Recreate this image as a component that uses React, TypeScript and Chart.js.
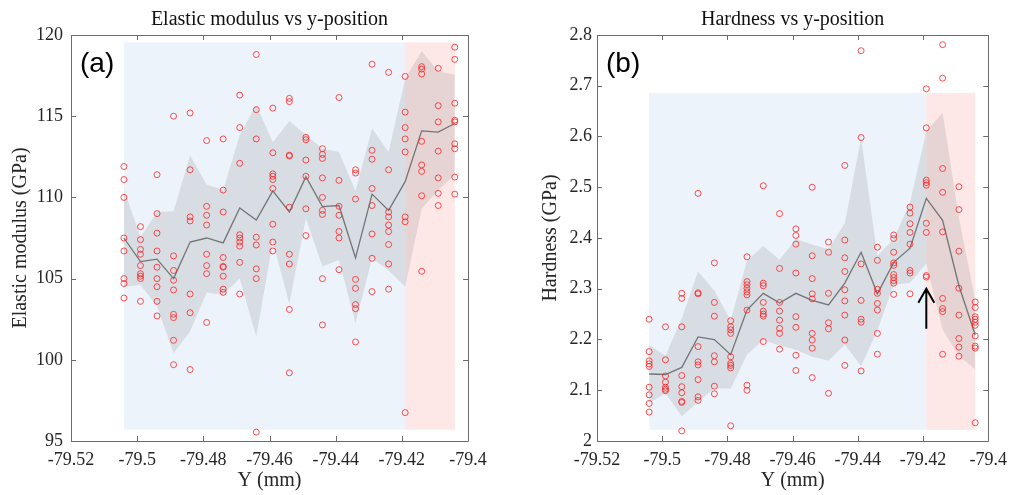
import { useEffect, useRef } from 'react';
import { Chart, registerables } from 'chart.js';

Chart.register(...registerables);

// ---------- data ----------
const POSITIONS = [
  -79.504, -79.499, -79.494, -79.489, -79.484, -79.479, -79.474, -79.469, -79.464, -79.459, -79.454,
  -79.449, -79.444, -79.439, -79.434, -79.429, -79.424, -79.419, -79.414, -79.409, -79.404,
];

const X_TICKS = [-79.52, -79.5, -79.48, -79.46, -79.44, -79.42, -79.4];
const X_TICK_LABELS = ['-79.52', '-79.5', '-79.48', '-79.46', '-79.44', '-79.42', '-79.4'];

const E_TICKS = [95, 100, 105, 110, 115, 120];
const E_TICK_LABELS = ['95', '100', '105', '110', '115', '120'];
const H_TICKS = [2, 2.1, 2.2, 2.3, 2.4, 2.5, 2.6, 2.7, 2.8];
const H_TICK_LABELS = ['2', '2.1', '2.2', '2.3', '2.4', '2.5', '2.6', '2.7', '2.8'];

// region bounds: [blue start, split, red end] in Y (mm)
const REGION_X = [-79.504, -79.419, -79.404];
const E_REGION_Y = [95.7, 119.55];
const H_REGION_Y = [2.022, 2.686];

// Elastic modulus measurements (GPa), one row per position
const E_POINTS = [
  [111.9, 111.1, 110.0, 107.5, 106.7, 105.0, 104.7, 103.8],
  [108.2, 107.4, 106.8, 106.5, 105.8, 105.3, 105.15, 105.0, 103.6],
  [111.4, 109.0, 107.8, 106.7, 105.7, 105.0, 104.5, 103.6, 102.7],
  [115.0, 106.4, 105.5, 104.9, 104.3, 102.8, 102.6, 101.2, 99.7],
  [115.2, 111.7, 108.8, 108.55, 104.05, 102.9, 99.4],
  [113.5, 109.45, 108.9, 108.3, 106.5, 105.8, 105.3, 102.3],
  [113.6, 110.45, 109.1, 106.3, 105.75, 105.7, 105.15, 104.35, 104.15],
  [116.3, 114.3, 112.1, 107.7, 107.5, 107.25, 107.0, 106.0, 104.05],
  [118.8, 115.4, 113.6, 107.55, 107.07, 105.6, 105.0, 95.55],
  [115.5, 112.75, 111.45, 111.3, 111.1, 110.55, 108.35, 107.25, 106.7],
  [116.1, 115.9, 112.6, 112.55, 109.4, 106.5, 105.9, 103.1, 99.2],
  [113.7, 113.55, 112.3, 111.3, 109.3, 107.65],
  [113.0, 112.65, 112.4, 111.2, 110.0, 109.2, 108.95, 105.0, 102.15],
  [116.15, 111.05, 109.45, 108.9, 107.9, 107.5, 105.55],
  [111.7, 111.5, 109.9, 104.95, 104.4, 103.4, 103.15, 101.1],
  [118.2, 112.9, 112.35, 110.55, 109.5, 107.75, 106.25, 104.2],
  [117.7, 111.7, 109.1, 108.8, 108.3, 107.9, 107.1, 105.9, 104.35],
  [117.45, 115.25, 114.3, 113.6, 112.8, 108.8, 108.5, 96.75],
  [118.05, 117.9, 117.6, 113.45, 112.0, 111.6, 110.1, 105.45],
  [117.95, 115.65, 114.65, 112.85, 111.2, 110.25, 109.5],
  [119.25, 118.5, 115.8, 114.75, 114.65, 113.3, 113.0, 111.25, 110.2],
];
const E_MEAN = [107.5, 106.05, 106.2, 105.0, 107.25, 107.5, 107.2, 109.35, 108.6, 110.4, 109.1, 111.28, 109.43, 109.5, 106.28, 110.2, 109.2, 110.97, 114.1, 114.02, 114.55];
const E_UPPER = [110.5, 107.55, 109.1, 109.15, 112.6, 110.8, 110.45, 113.85, 115.7, 113.4, 114.7, 113.85, 113.0, 112.8, 110.4, 114.25, 112.8, 117.3, 119.0, 117.75, 117.55];
const E_LOWER = [104.5, 104.6, 103.3, 100.4, 101.75, 104.15, 104.0, 105.0, 101.4, 107.3, 103.45, 108.7, 105.75, 106.15, 102.25, 106.25, 105.5, 104.5, 109.3, 110.45, 111.4];

// Hardness measurements (GPa), one row per position
const H_POINTS = [
  [2.240, 2.176, 2.158, 2.152, 2.147, 2.106, 2.091, 2.074, 2.057],
  [2.225, 2.160, 2.128, 2.116, 2.106, 2.102, 2.099],
  [2.291, 2.281, 2.225, 2.129, 2.107, 2.095, 2.078, 2.076, 2.020],
  [2.488, 2.292, 2.290, 2.186, 2.156, 2.150, 2.121, 2.087, 2.080],
  [2.351, 2.273, 2.246, 2.168, 2.156, 2.108, 2.093],
  [2.237, 2.225, 2.219, 2.212, 2.166, 2.153, 2.149, 2.144, 2.030],
  [2.363, 2.314, 2.308, 2.301, 2.294, 2.288, 2.258, 2.110, 2.100],
  [2.503, 2.311, 2.306, 2.273, 2.256, 2.250, 2.246, 2.196],
  [2.448, 2.340, 2.273, 2.256, 2.238, 2.222, 2.212, 2.181],
  [2.418, 2.405, 2.388, 2.331, 2.245, 2.224, 2.169, 2.139],
  [2.500, 2.365, 2.320, 2.290, 2.280, 2.212, 2.199, 2.183, 2.125],
  [2.392, 2.372, 2.291, 2.233, 2.221, 2.094],
  [2.543, 2.396, 2.361, 2.334, 2.298, 2.276, 2.248, 2.199, 2.149],
  [2.769, 2.598, 2.349, 2.277, 2.240, 2.234, 2.138],
  [2.382, 2.356, 2.299, 2.291, 2.271, 2.258, 2.212, 2.171],
  [2.406, 2.399, 2.372, 2.351, 2.346, 2.328, 2.322, 2.316, 2.311, 2.289],
  [2.461, 2.449, 2.428, 2.411, 2.388, 2.336, 2.331, 2.290],
  [2.694, 2.617, 2.514, 2.509, 2.504, 2.429, 2.411, 2.326, 2.323],
  [2.781, 2.715, 2.537, 2.490, 2.412, 2.281, 2.261, 2.255, 2.171],
  [2.501, 2.456, 2.374, 2.301, 2.248, 2.202, 2.185, 2.167],
  [2.274, 2.263, 2.245, 2.240, 2.234, 2.228, 2.207, 2.187, 2.183, 2.036],
];
const H_MEAN = [2.132, 2.131, 2.145, 2.205, 2.200, 2.170, 2.258, 2.291, 2.272, 2.291, 2.277, 2.268, 2.311, 2.372, 2.290, 2.352, 2.380, 2.478, 2.435, 2.306, 2.209];
const H_UPPER = [2.189, 2.168, 2.242, 2.334, 2.296, 2.238, 2.355, 2.384, 2.357, 2.398, 2.387, 2.378, 2.429, 2.597, 2.365, 2.398, 2.470, 2.610, 2.647, 2.440, 2.278];
const H_LOWER = [2.075, 2.094, 2.049, 2.077, 2.104, 2.103, 2.170, 2.199, 2.188, 2.180, 2.166, 2.158, 2.190, 2.148, 2.218, 2.308, 2.312, 2.350, 2.219, 2.168, 2.141];

// arrow in panel (b): x position and y from/to
const ARROW_X = -79.419;
const ARROW_Y = [2.221, 2.300];

// ---------- styles ----------
const SERIF = "'Liberation Serif', 'Times New Roman', serif";
const SANS = "'Liberation Sans', Arial, sans-serif";
const BLUE_BG = 'rgb(236,243,250)';
const RED_BG = 'rgb(253,231,231)';
const BAND = 'rgba(103,103,103,0.15)';
const POINT_RED = 'rgba(255,35,35,0.8)';
const MEAN_COLOR = 'rgba(105,105,105,0.9)';
const AXIS_COLOR = '#6b6b6b';
const TEXT_COLOR = '#262626';

type Panel = {
  title: string;
  yTitle: string;
  yMin: number;
  yMax: number;
  yTicks: number[];
  yTickLabels: string[];
  points: number[][];
  mean: number[];
  upper: number[];
  lower: number[];
  regionY: number[];
  label: string;
  arrow: boolean;
  axisWidth: number;
  rightPad: number;
  yTitlePad: number;
  yTickPad: number;
};

const PANEL_A: Panel = {
  title: 'Elastic modulus vs y-position',
  yTitle: 'Elastic modulus (GPa)',
  yMin: 95,
  yMax: 120,
  yTicks: E_TICKS,
  yTickLabels: E_TICK_LABELS,
  points: E_POINTS,
  mean: E_MEAN,
  upper: E_UPPER,
  lower: E_LOWER,
  regionY: E_REGION_Y,
  label: '(a)',
  arrow: false,
  axisWidth: 71,
  rightPad: 39,
  yTitlePad: 9,
  yTickPad: 8,
};

const PANEL_B: Panel = {
  title: 'Hardness vs y-position',
  yTitle: 'Hardness (GPa)',
  yMin: 2,
  yMax: 2.8,
  yTicks: H_TICKS,
  yTickLabels: H_TICK_LABELS,
  points: H_POINTS,
  mean: H_MEAN,
  upper: H_UPPER,
  lower: H_LOWER,
  regionY: H_REGION_Y,
  label: '(b)',
  arrow: true,
  axisWidth: 90,
  rightPad: 20,
  yTitlePad: 32,
  yTickPad: 5,
};

function makeDecor(p: Panel) {
  return {
    id: 'decor',
    beforeDatasetsDraw(chart: any) {
      const { ctx } = chart;
      const xs = chart.scales.x;
      const ys = chart.scales.y;
      const yTop = ys.getPixelForValue(p.regionY[1]);
      const yBot = ys.getPixelForValue(p.regionY[0]);
      const xa = xs.getPixelForValue(REGION_X[0]);
      const xb = xs.getPixelForValue(REGION_X[1]);
      const xc = xs.getPixelForValue(REGION_X[2]);
      ctx.save();
      ctx.fillStyle = BLUE_BG;
      ctx.fillRect(xa, yTop, xb - xa, yBot - yTop);
      ctx.fillStyle = RED_BG;
      ctx.fillRect(xb, yTop, xc - xb, yBot - yTop);
      ctx.restore();
    },
    afterDatasetsDraw(chart: any) {
      const { ctx, chartArea } = chart;
      const { left, right, top, bottom } = chartArea;
      const xs = chart.scales.x;
      const ys = chart.scales.y;
      ctx.save();
      ctx.strokeStyle = AXIS_COLOR;
      ctx.lineWidth = 1;
      ctx.beginPath();
      ctx.rect(Math.round(left) + 0.5, Math.round(top) + 0.5, Math.round(right - left), Math.round(bottom - top));
      const tl = 5;
      X_TICKS.forEach((v) => {
        const x = Math.round(xs.getPixelForValue(v)) + 0.5;
        ctx.moveTo(x, bottom);
        ctx.lineTo(x, bottom - tl);
        ctx.moveTo(x, top);
        ctx.lineTo(x, top + tl);
      });
      p.yTicks.forEach((v) => {
        const y = Math.round(ys.getPixelForValue(v)) + 0.5;
        ctx.moveTo(left, y);
        ctx.lineTo(left + tl, y);
        ctx.moveTo(right, y);
        ctx.lineTo(right - tl, y);
      });
      ctx.stroke();

      // chart title, centred over the plot area
      ctx.fillStyle = '#111';
      ctx.font = `20px ${SERIF}`;
      ctx.textAlign = 'center';
      ctx.textBaseline = 'middle';
      ctx.fillText(p.title, (left + right) / 2, top - 15);

      // panel label
      ctx.fillStyle = '#000';
      ctx.font = `28px ${SANS}`;
      ctx.textAlign = 'left';
      ctx.textBaseline = 'middle';
      ctx.fillText(p.label, left + 9, top + 29);

      if (p.arrow) {
        const ax = xs.getPixelForValue(ARROW_X);
        const y0 = ys.getPixelForValue(ARROW_Y[0]);
        const y1 = ys.getPixelForValue(ARROW_Y[1]);
        ctx.strokeStyle = '#000';
        ctx.lineWidth = 2;
        ctx.beginPath();
        ctx.moveTo(ax, y0);
        ctx.lineTo(ax, y1);
        ctx.moveTo(ax - 8, y1 + 14);
        ctx.lineTo(ax, y1);
        ctx.lineTo(ax + 8, y1 + 14);
        ctx.stroke();
      }
      ctx.restore();
    },
  };
}

function buildConfig(p: Panel): any {
  const pts = p.points.flatMap((col, i) => col.map((v) => ({ x: POSITIONS[i], y: v })));
  const toLine = (arr: number[]) => arr.map((v, i) => ({ x: POSITIONS[i], y: v }));
  return {
    type: 'line',
    data: {
      datasets: [
        {
          type: 'scatter',
          data: pts,
          showLine: false,
          pointStyle: 'circle',
          pointRadius: 3,
          pointBorderWidth: 1,
          borderColor: POINT_RED,
          backgroundColor: 'rgba(0,0,0,0)',
        },
        {
          data: toLine(p.mean),
          borderColor: MEAN_COLOR,
          borderWidth: 1.3,
          pointRadius: 0,
          fill: false,
          tension: 0,
        },
        {
          data: toLine(p.upper),
          borderColor: 'rgba(0,0,0,0)',
          borderWidth: 0,
          pointRadius: 0,
          fill: false,
          tension: 0,
        },
        {
          data: toLine(p.lower),
          borderColor: 'rgba(0,0,0,0)',
          borderWidth: 0,
          pointRadius: 0,
          backgroundColor: BAND,
          fill: '-1',
          tension: 0,
        },
      ],
    },
    options: {
      responsive: false,
      maintainAspectRatio: false,
      animation: false,
      devicePixelRatio: 1,
      layout: { padding: { left: 0, right: p.rightPad, top: 35, bottom: 0 } },
      plugins: {
        legend: { display: false },
        tooltip: { enabled: false },
        title: { display: false },
      },
      scales: {
        x: {
          type: 'linear',
          min: -79.52,
          max: -79.4,
          grid: { display: false, drawTicks: false },
          border: { display: false },
          afterBuildTicks: (s: any) => {
            s.ticks = X_TICKS.map((v) => ({ value: v }));
          },
          afterFit: (s: any) => {
            s.height = 54;
          },
          ticks: {
            padding: 8,
            color: TEXT_COLOR,
            font: { family: SERIF, size: 18 },
            maxRotation: 0,
            autoSkip: false,
            callback: (_v: any, i: number) => X_TICK_LABELS[i],
          },
          title: {
            display: true,
            text: 'Y (mm)',
            color: TEXT_COLOR,
            font: { family: SERIF, size: 20 },
            padding: { top: 0, bottom: 2 },
          },
        },
        y: {
          type: 'linear',
          min: p.yMin,
          max: p.yMax,
          grid: { display: false, drawTicks: false },
          border: { display: false },
          afterBuildTicks: (s: any) => {
            s.ticks = p.yTicks.map((v) => ({ value: v }));
          },
          afterFit: (s: any) => {
            s.width = p.axisWidth;
          },
          ticks: {
            padding: p.yTickPad,
            color: TEXT_COLOR,
            font: { family: SERIF, size: 18 },
            autoSkip: false,
            callback: (_v: any, i: number) => p.yTickLabels[i],
          },
          title: {
            display: true,
            text: p.yTitle,
            color: TEXT_COLOR,
            font: { family: SERIF, size: 20 },
            padding: { top: p.yTitlePad, bottom: 0 },
          },
        },
      },
    },
    plugins: [makeDecor(p)],
  };
}

export default function App() {
  const leftRef = useRef<HTMLCanvasElement>(null);
  const rightRef = useRef<HTMLCanvasElement>(null);

  useEffect(() => {
    const c1 = new Chart(leftRef.current as HTMLCanvasElement, buildConfig(PANEL_A));
    const c2 = new Chart(rightRef.current as HTMLCanvasElement, buildConfig(PANEL_B));
    return () => {
      c1.destroy();
      c2.destroy();
    };
  }, []);

  return (
    <div style={{ position: 'fixed', left: 0, top: 0, width: 1015, height: 495, background: '#fff' }}>
      <canvas
        ref={leftRef}
        width={507}
        height={495}
        style={{ position: 'absolute', left: 0, top: 0, width: 507, height: 495 }}
      />
      <canvas
        ref={rightRef}
        width={508}
        height={495}
        style={{ position: 'absolute', left: 507, top: 0, width: 508, height: 495 }}
      />
    </div>
  );
}
